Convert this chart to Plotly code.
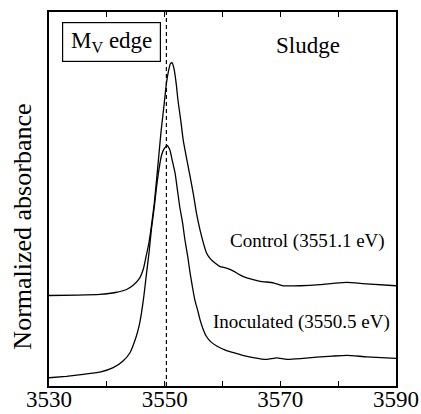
import plotly.graph_objects as go

energy_control = [3530.0, 3535.0, 3538.8, 3541.5, 3543.4, 3544.6, 3545.7, 3546.3, 3546.8, 3547.3,
                  3547.7, 3548.2, 3548.6, 3549.0, 3549.4, 3549.9, 3550.3, 3550.7, 3551.0,
                  3551.3, 3551.6, 3552.0, 3552.3, 3552.8, 3553.2, 3553.8, 3554.4, 3555.0,
                  3555.5, 3556.1, 3556.7, 3557.2, 3557.8, 3558.6, 3559.5, 3560.7, 3561.9,
                  3563.0, 3564.2, 3566.5, 3568.8, 3570.5, 3573.4, 3576.9, 3579.5, 3581.5,
                  3584.9, 3590.0]
abs_control = [0.242, 0.243, 0.245, 0.250, 0.258, 0.270, 0.289, 0.312, 0.347, 0.385,
               0.427, 0.488, 0.551, 0.618, 0.684, 0.752, 0.809, 0.845, 0.862,
               0.864, 0.849, 0.808, 0.764, 0.708, 0.658, 0.608, 0.560, 0.510,
               0.462, 0.418, 0.382, 0.357, 0.342, 0.330, 0.320, 0.315, 0.307,
               0.297, 0.289, 0.280, 0.276, 0.268, 0.268, 0.271, 0.275, 0.277,
               0.273, 0.268]

energy_inoc = [3530.0, 3533.0, 3535.9, 3538.8, 3541.1, 3542.8, 3544.0, 3545.1, 3545.6, 3546.0,
               3546.4, 3546.8, 3547.3, 3547.7, 3548.2, 3548.6, 3549.0, 3549.4, 3549.7,
               3550.0, 3550.4, 3550.9, 3551.3, 3551.8, 3552.2, 3552.6, 3553.1, 3553.5,
               3554.0, 3554.4, 3554.8, 3555.2, 3555.7, 3556.1, 3556.6, 3557.2, 3558.0,
               3559.0, 3560.5, 3561.9, 3563.5, 3565.3, 3567.6, 3569.4, 3571.1, 3573.5,
               3576.3, 3579.0, 3581.5, 3584.9, 3590.0]
abs_inoc = [0.022, 0.026, 0.031, 0.037, 0.049, 0.067, 0.089, 0.133, 0.162, 0.196,
            0.240, 0.293, 0.357, 0.418, 0.478, 0.533, 0.578, 0.613, 0.628,
            0.636, 0.643, 0.631, 0.604, 0.569, 0.525, 0.480, 0.436, 0.391,
            0.345, 0.302, 0.265, 0.231, 0.203, 0.178, 0.154, 0.133, 0.118,
            0.107, 0.096, 0.089, 0.082, 0.076, 0.071, 0.075, 0.071, 0.073,
            0.077, 0.080, 0.082, 0.078, 0.074]

edge_energy = 3550.3
x_ticks = [3530, 3550, 3570, 3590]

font = "Liberation Serif"

fig = go.Figure()
fig.add_trace(go.Scatter(x=energy_control, y=abs_control, mode="lines",
                         line=dict(color="black", width=1.3, shape="spline", smoothing=0.5),
                         showlegend=False))
fig.add_trace(go.Scatter(x=energy_inoc, y=abs_inoc, mode="lines",
                         line=dict(color="black", width=1.3, shape="spline", smoothing=0.5),
                         showlegend=False))
fig.add_trace(go.Scatter(x=[edge_energy, edge_energy], y=[0, 1], mode="lines",
                         line=dict(color="black", width=1.2, dash="4px,3px"),
                         showlegend=False))

fig.add_annotation(x=3540.8, y=0.919, xref="x", yref="y", text="M<sub>V</sub> edge",
                   showarrow=False, font=dict(family=font, size=23, color="black"),
                   bordercolor="black", borderwidth=1.2, borderpad=6, bgcolor="white",
                   width=85, height=26)
fig.add_annotation(x=3574.8, y=0.91, xref="x", yref="y", text="Sludge", showarrow=False,
                   font=dict(family=font, size=23, color="black"))
fig.add_annotation(x=3574.7, y=0.389, xref="x", yref="y", text="Control (3551.1 eV)",
                   showarrow=False, font=dict(family=font, size=19, color="black"))
fig.add_annotation(x=3573.6, y=0.172, xref="x", yref="y", text="Inoculated (3550.5 eV)",
                   showarrow=False, font=dict(family=font, size=19, color="black"))
fig.add_annotation(x=-0.075, y=0.426, xref="paper", yref="paper", text="Normalized absorbance",
                   textangle=-90, showarrow=False, xanchor="center", yanchor="middle",
                   font=dict(family=font, size=26, color="black"))

fig.update_layout(
    template="none",
    width=421, height=414,
    margin=dict(l=49, r=25, t=12, b=28, autoexpand=False),
    paper_bgcolor="white", plot_bgcolor="white",
    xaxis=dict(range=[3530, 3590], tickvals=x_ticks, ticktext=[str(v) for v in x_ticks],
               ticks="inside", ticklen=5, tickwidth=1.2, tickcolor="black",
               minor=dict(dtick=10, tick0=3530, ticks="inside", ticklen=5, tickwidth=1.2,
                          tickcolor="black", showgrid=False),
               showline=True, linecolor="black", linewidth=2, mirror="ticks",
               showgrid=False, zeroline=False, automargin=False, ticklabelstandoff=-9,
               tickfont=dict(family=font, size=23, color="black")),
    yaxis=dict(range=[0, 1], showticklabels=False, ticks="", showline=True,
               linecolor="black", linewidth=2, mirror=True, showgrid=False, zeroline=False,
               automargin=False),
)

fig.write_html("out.html")
